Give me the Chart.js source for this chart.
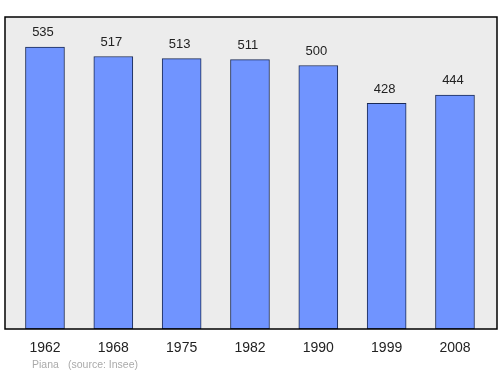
<!DOCTYPE html>
<html>
<head>
<meta charset="utf-8">
<script src="https://cdn.jsdelivr.net/npm/chart.js@4/dist/chart.umd.min.js"></script>
<style>
  html, body { margin: 0; padding: 0; background: #fff; }
</style>
</head>
<body>
<canvas id="popChart" width="500" height="374"></canvas>
<script>
// Population of Piana (source: Insee)
const years = ['1962', '1968', '1975', '1982', '1990', '1999', '2008'];
const population = [535, 517, 513, 511, 500, 428, 444];
const footerPlace = 'Piana';
const footerSource = '(source: Insee)';

let barColor = '#7094ff';
let plotBg = '#ececec';
let fontFamily = '"Liberation Sans", Arial, sans-serif';

// gray plot background, black frame, value labels and footer
const decor = {
    id: 'decor',
    beforeDatasetsDraw(chart) {
        const a = chart.chartArea, c = chart.ctx;
        c.save();
        c.fillStyle = plotBg;
        c.fillRect(a.left, a.top, a.right - a.left, a.bottom - a.top);
        c.restore();
    },
    afterDatasetsDraw(chart) {
        const a = chart.chartArea, c = chart.ctx;
        c.save();
        c.strokeStyle = '#000';
        c.lineWidth = 1.5;
        c.strokeRect(a.left, a.top, a.right - a.left, a.bottom - a.top);
        c.fillStyle = '#222';
        c.font = '13px ' + fontFamily;
        c.textAlign = 'center';
        c.textBaseline = 'bottom';
        chart.getDatasetMeta(0).data.forEach((bar, i) => {
            c.fillText(String(population[i]), bar.x - 2, bar.y - 8);
        });
        c.fillStyle = '#aaa';
        c.font = '10.5px ' + fontFamily;
        c.textAlign = 'left';
        c.textBaseline = 'middle';
        c.fillText(footerPlace, 32, 365);
        c.fillText(footerSource, 68, 365);
        c.restore();
    }
};

new Chart(document.getElementById('popChart'), {
    type: 'bar',
    data: {
        datasets: [{
            data: population.map((v, i) => ({x: i, y: v})),
            backgroundColor: barColor,
            borderColor: '#1a2a55',
            borderWidth: 1,
            borderSkipped: false,
            borderRadius: 0,
            barThickness: 39
        }]
    },
    options: {
        responsive: false,
        animation: false,
        layout: { padding: { top: 17, left: 5, right: 3, bottom: 0 } },
        plugins: { legend: { display: false }, tooltip: { enabled: false } },
        scales: {
            x: {
                type: 'linear',
                offset: false,
                min: -0.585,
                max: 6.615,
                grid: { display: false },
                border: { display: false },
                afterBuildTicks(scale) {
                    scale.ticks = years.map((y, i) => ({ value: i }));
                },
                afterFit(scale) { scale.height = 45; },
                ticks: {
                    autoSkip: false,
                    maxRotation: 0,
                    padding: 3,
                    color: '#222',
                    font: { family: fontFamily, size: 14 },
                    callback: (v) => years[v]
                }
            },
            y: {
                display: false,
                min: 0,
                max: 592
            }
        }
    },
    plugins: [decor]
});
</script>
</body>
</html>
